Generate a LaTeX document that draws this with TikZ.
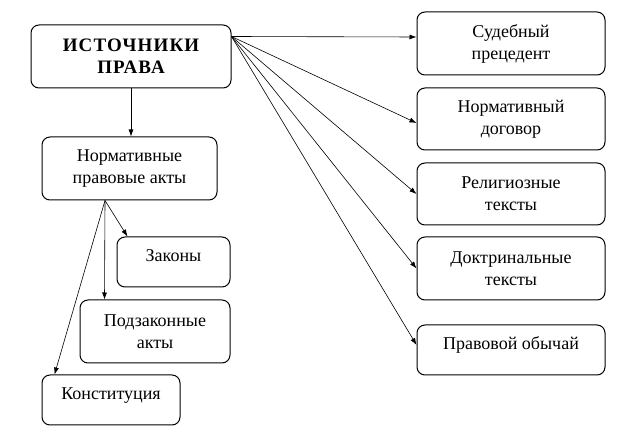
\documentclass[tikz,border=0pt]{standalone}
\usepackage{fontspec}
\setmainfont{Liberation Serif}
\usetikzlibrary{calc}
\usetikzlibrary{arrows.meta}

\begin{document}
\begin{tikzpicture}[x=1pt, y=-1pt, ->, >={Latex[length=7pt,width=5pt]}, draw=black, font=\fontsize{18}{22}\selectfont]
\tikzstyle{block}=[draw=black, rectangle, rounded corners=8pt, line width=1pt, align=center, inner sep=0pt]
\tikzstyle{single}=[text depth=13pt]
\tikzstyle{link}=[line width=0.6pt]
\tikzstyle{title}=[font=\fontsize{19}{22}\selectfont\bfseries\addfontfeatures{LetterSpace=6}]

\useasboundingbox (0,0) rectangle (638,438);

\node[block, title, minimum width=200, minimum height=63] (src) at (131,56.5) {ИСТОЧНИКИ\\ПРАВА};
\node[block, minimum width=175, minimum height=63] (npa) at (129.5,168.5) {Нормативные\\правовые акты};
\node[block, single, minimum width=113, minimum height=50] (zak) at (173.5,262) {Законы};
\node[block, minimum width=150, minimum height=63] (pod) at (155,331.5) {Подзаконные\\акты};
\node[block, single, minimum width=138, minimum height=50] (kon) at (111,400) {Конституция};

% right column
\node[block, minimum width=188, minimum height=63] (sud) at (511,43.5) {Судебный\\прецедент};
\node[block, minimum width=188, minimum height=62] (dog) at (511,119) {Нормативный\\договор};
\node[block, minimum width=188, minimum height=62] (rel) at (511,194) {Религиозные\\тексты};
\node[block, minimum width=188, minimum height=63] (dok) at (511,268.5) {Доктринальные\\тексты};
\node[block, single, minimum width=188, minimum height=50] (obi) at (511,350) {Правовой обычай};

\coordinate (fan) at ([yshift=-12]src.north east);
\coordinate (npab) at ([xshift=-24.5]npa.south);

\draw[link] (fan) -- ([yshift=6.5]sud.west);
\draw[link] (fan) -- ([yshift=-4]dog.west);
\draw[link] (fan) -- (rel.west);
\draw[link] (fan) -- (dok.west);
\draw[link] (fan) -- ([yshift=5]obi.west);

\draw[link] (src.south) -- (src.south |- npa.north);

\draw[link] (npab) -- ([xshift=11]zak.north west);
\draw[link] (npab) -- ([xshift=25]pod.north west);
\draw[link] (npab) -- ([xshift=13]kon.north west);
\end{tikzpicture}
\end{document}
